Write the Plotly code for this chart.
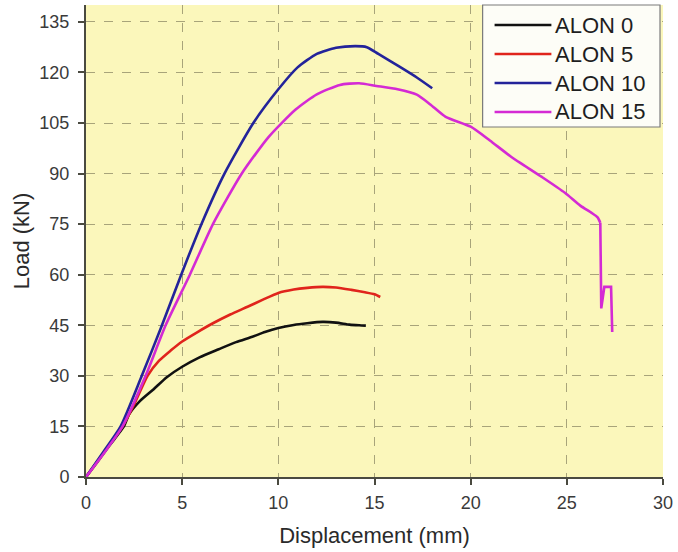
import plotly.graph_objects as go

# Load-displacement curves (displacement in mm, load in kN)
alon0_x = [0, 0.6, 1.2, 1.97, 2.24, 2.8, 3.47, 4.2, 5.0, 5.9, 6.9, 7.8, 8.65, 9.3, 10.0, 10.8, 11.5, 12.3, 13.0, 13.7, 14.2, 14.55]
alon0_y = [0, 4.5, 9.2, 15.0, 18.6, 22.5, 25.8, 29.6, 32.7, 35.5, 37.9, 40.0, 41.6, 43.0, 44.2, 45.1, 45.6, 46.0, 45.8, 45.2, 45.0, 44.9]

alon5_x = [0, 0.7, 1.3, 1.9, 2.5, 3.2, 3.8, 4.4, 5.0, 5.8, 6.6, 7.5, 8.4, 9.2, 10.0, 10.8, 11.5, 12.3, 13.0, 13.8, 14.5, 15.0, 15.3]
alon5_y = [0, 5.5, 10.3, 15.0, 21.5, 30.0, 34.5, 37.5, 40.2, 43.0, 45.6, 48.2, 50.5, 52.6, 54.6, 55.6, 56.1, 56.4, 56.2, 55.5, 54.8, 54.2, 53.4]

alon10_x = [0, 0.9, 1.8, 2.9, 3.95, 4.95, 6.0, 7.2, 8.7, 10.0, 11.0, 12.0, 13.0, 14.0, 14.6, 15.2, 16.3, 17.2, 18.0]
alon10_y = [0, 7.4, 15.0, 30.0, 45.0, 60.0, 75.0, 90.0, 105.0, 115.0, 121.5, 125.5, 127.3, 127.8, 127.5, 125.5, 121.7, 118.5, 115.3]

alon15_x = [0, 0.95, 1.9, 3.1, 4.14, 5.4, 6.6, 8.1, 9.5, 10.9, 12.0, 13.2, 14.2, 15.1, 16.2, 17.2, 17.9, 18.7, 20.0, 21.0, 22.1, 23.7, 24.9, 25.7, 26.3, 26.6, 26.74, 26.79, 26.95, 27.1, 27.3, 27.36]
alon15_y = [0, 7.2, 15.0, 30.0, 45.0, 60.0, 75.0, 90.0, 100.9, 109.0, 113.5, 116.3, 116.8, 116.0, 115.0, 113.4, 110.5, 106.8, 103.9, 99.8, 95.0, 89.0, 84.3, 80.5, 78.3, 77.0, 75.4, 50.0, 56.4, 56.4, 56.4, 43.0]
# index where the ALON 15 specimen starts its sudden failure
alon15_break = 26

series_names = ["ALON 0", "ALON 5", "ALON 10", "ALON 15"]
series_colors = ["#111111", "#e0241c", "#23239a", "#d42ad4"]
series_x = [alon0_x, alon5_x, alon10_x, alon15_x]
series_y = [alon0_y, alon5_y, alon10_y, alon15_y]

x_ticks = [0, 5, 10, 15, 20, 25, 30]
y_ticks = [0, 15, 30, 45, 60, 75, 90, 105, 120, 135]

FONT = "Liberation Sans, Arial, sans-serif"
W, H = 678, 552
M_L, M_R, M_T, M_B = 86, 13, 5, 75

fig = go.Figure()
for name, color, xs, ys in zip(series_names, series_colors, series_x, series_y):
    if name == "ALON 15":
        # smooth loading branch, then the straight-line failure drops
        fig.add_trace(go.Scatter(
            x=xs[:alon15_break + 1], y=ys[:alon15_break + 1], mode="lines", name=name,
            line=dict(color=color, width=2.6, shape="spline", smoothing=0.6),
            showlegend=False,
        ))
        fig.add_trace(go.Scatter(
            x=xs[alon15_break:], y=ys[alon15_break:], mode="lines", name=name,
            line=dict(color=color, width=2.6), showlegend=False,
        ))
    else:
        fig.add_trace(go.Scatter(
            x=xs, y=ys, mode="lines", name=name,
            line=dict(color=color, width=2.6, shape="spline", smoothing=0.6),
            showlegend=False,
        ))

# Boxed legend in the upper-right corner with long line samples
plot_w = W - M_L - M_R
plot_h = H - M_T - M_B


def px_x(p):
    return (p - M_L) / plot_w


def px_y(p):
    return 1 - (p - M_T) / plot_h


shapes = [dict(
    type="rect", xref="paper", yref="paper",
    x0=px_x(484), x1=px_x(662), y0=px_y(127), y1=px_y(5),
    line=dict(color="#7a7a7a", width=1.2), fillcolor="#fdfdf7", layer="above",
)]
annotations = []
row_y = [25, 54, 83, 112]
for name, color, ry in zip(series_names, series_colors, row_y):
    shapes.append(dict(
        type="line", xref="paper", yref="paper",
        x0=px_x(496), x1=px_x(553), y0=px_y(ry), y1=px_y(ry),
        line=dict(color=color, width=2.6), layer="above",
    ))
    annotations.append(dict(
        xref="paper", yref="paper", x=px_x(555), y=px_y(ry),
        xanchor="left", yanchor="middle", showarrow=False,
        text=name, font=dict(family=FONT, size=22, color="#1e1e1e"),
    ))

tick_font = dict(family=FONT, size=18, color="#3a3a3a")
title_font = dict(family=FONT, size=22, color="#2a2a2a")

fig.update_layout(
    width=W, height=H,
    margin=dict(l=M_L, r=M_R, t=M_T, b=M_B),
    paper_bgcolor="white",
    plot_bgcolor="#fbf7bb",
    showlegend=False,
    shapes=shapes,
    annotations=annotations,
    xaxis=dict(
        range=[0, 30], tickvals=x_ticks, ticktext=[str(v) for v in x_ticks],
        showline=True, linecolor="#4a4a40", linewidth=2,
        ticks="outside", ticklen=6, tickwidth=2, tickcolor="#4a4a40",
        showgrid=True, gridcolor="#a8a47a", griddash="dash", gridwidth=1,
        zeroline=False, tickfont=tick_font, ticklabelstandoff=2,
        title=dict(text="Displacement (mm)", font=title_font, standoff=16),
    ),
    yaxis=dict(
        range=[0, 140], tickvals=y_ticks, ticktext=[str(v) for v in y_ticks],
        showline=True, linecolor="#4a4a40", linewidth=2,
        ticks="outside", ticklen=6, tickwidth=2, tickcolor="#4a4a40",
        showgrid=True, gridcolor="#a8a47a", griddash="dash", gridwidth=1,
        zeroline=False, tickfont=tick_font, ticklabelstandoff=5,
        title=dict(text="Load (kN)", font=title_font, standoff=4),
    ),
)

fig.write_html("out.html")
